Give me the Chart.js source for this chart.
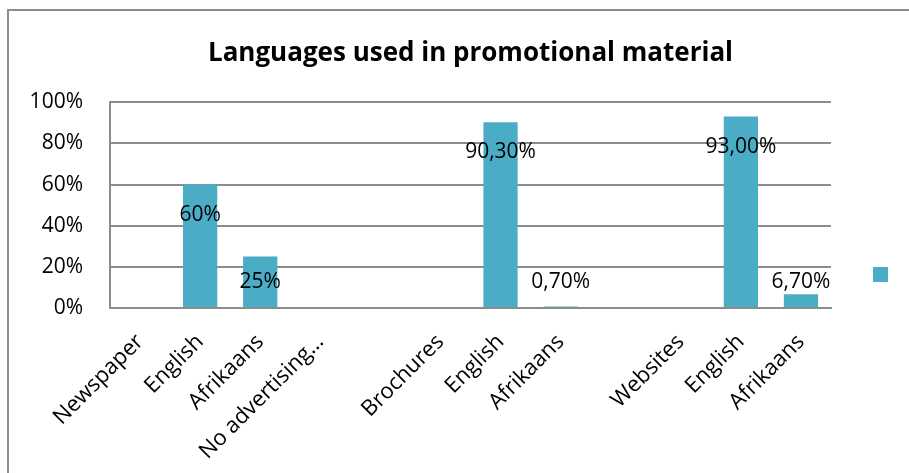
<!DOCTYPE html>
<html>
<head>
<meta charset="utf-8">
<script src="https://cdn.jsdelivr.net/npm/chart.js@4.4.1/dist/chart.umd.min.js"></script>
<style>
  html, body { margin: 0; padding: 0; background: #fff; overflow: hidden; }
  body { width: 909px; height: 473px; position: relative; }
  #frame {
    position: absolute; left: 7px; top: 9px; width: 925px; height: 600px;
    border: 2px solid #8c8c8c; box-sizing: border-box;
  }
  #wrap { position: absolute; left: 0; top: 0; width: 909px; height: 549px; }
</style>
</head>
<body>
<div id="frame"></div>
<div id="wrap"><canvas id="langChart"></canvas></div>
<script>
// categories along the x axis (blank ones are the gaps between groups)
const categories = [
  'Newspaper', 'English', 'Afrikaans', 'No advertising…', '',
  'Brochures', 'English', 'Afrikaans', '',
  'Websites', 'English', 'Afrikaans'
];
// share of material per language (null = no bar)
const shares = [null, 0.60, 0.25, null, null, null, 0.903, 0.007, null, null, 0.93, 0.067];
// labels as printed on the bars
const valueLabels = ['', '60%', '25%', '', '', '', '90,30%', '0,70%', '', '', '93,00%', '6,70%'];
const yTicks = [0, 0.2, 0.4, 0.6, 0.8, 1];

Chart.defaults.font.family = '"Open Sans", sans-serif';
Chart.defaults.color = '#000';

const gridColor = '#8c8c8c';

// draws the value labels, just under the bar top (or above small bars)
const valueLabelPlugin = {
  id: 'valueLabels',
  afterDatasetsDraw(chart) {
    const ctx = chart.ctx;
    const yScale = chart.scales.y;
    const base = yScale.getPixelForValue(0);
    const meta = chart.getDatasetMeta(0);
    ctx.save();
    ctx.font = '21px "Open Sans", sans-serif';
    ctx.fillStyle = '#000';
    ctx.textAlign = 'center';
    ctx.textBaseline = 'middle';
    meta.data.forEach((bar, i) => {
      if (shares[i] == null) return;
      const ty = Math.min(bar.y + 30, base - 26);
      ctx.fillText(valueLabels[i], bar.x, ty);
    });
    ctx.restore();
  }
};

const ctx = document.getElementById('langChart').getContext('2d');
const langChart = new Chart(ctx, {
  type: 'bar',
  data: {
    labels: categories,
    datasets: [{
      label: '',
      data: shares,
      backgroundColor: '#4BACC6',
      categoryPercentage: 1,
      barPercentage: 0.57
    }]
  },
  options: {
    responsive: true,
    maintainAspectRatio: false,
    animation: false,
    layout: { padding: { left: 0, right: 5, top: 0, bottom: 0 } },
    scales: {
      x: {
        grid: { display: false },
        border: { display: true, color: gridColor, width: 2 },
        ticks: {
          autoSkip: false,
          minRotation: 45,
          maxRotation: 45,
          padding: 13,
          font: { size: 22 }
        },
        afterFit: scale => { scale.height = 241; }
      },
      y: {
        min: 0,
        max: 1,
        afterBuildTicks: scale => { scale.ticks = yTicks.map(v => ({ value: v })); },
        grid: { color: gridColor, lineWidth: 2, drawTicks: false },
        border: { display: true, color: gridColor, width: 2 },
        ticks: {
          padding: 27,
          font: { size: 21 },
          callback: v => Math.round(v * 100) + '%'
        },
        afterFit: scale => { scale.width = 110; }
      }
    },
    plugins: {
      title: {
        display: true,
        fullSize: false,
        text: 'Languages used in promotional material',
        font: { size: 26, weight: 'bold' },
        color: '#000',
        padding: { top: 38, bottom: 33 }
      },
      legend: {
        display: true,
        position: 'right',
        labels: {
          boxWidth: 15,
          boxHeight: 15,
          padding: 42,
          font: { size: 12 }
        }
      },
      tooltip: { enabled: false }
    }
  },
  plugins: [valueLabelPlugin]
});
</script>
</body>
</html>
